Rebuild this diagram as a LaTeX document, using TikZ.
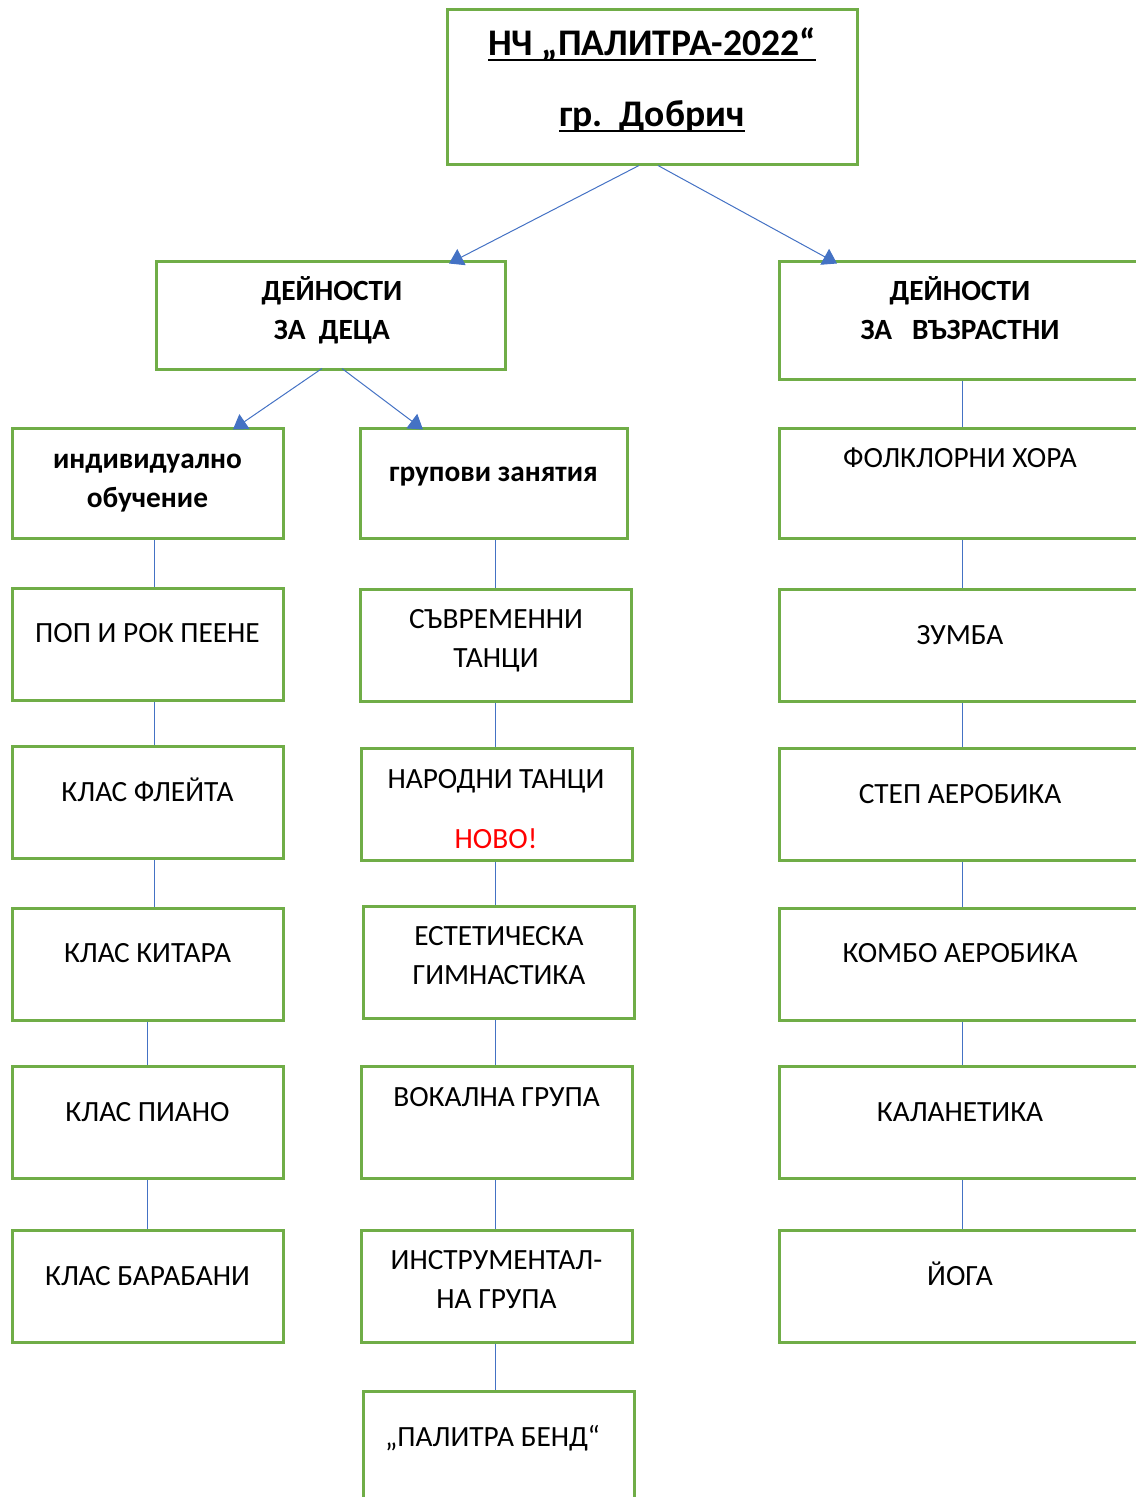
\documentclass[tikz,border=0pt]{standalone}
\usepackage{fontspec}
\setmainfont{Carlito}
\usetikzlibrary{arrows.meta}
\definecolor{boxgreen}{HTML}{70AD47}
\definecolor{linkblue}{HTML}{4472C4}
\definecolor{newred}{HTML}{FF0000}
\newcommand{\titleul}[1]{\setbox0\hbox{#1}\rlap{\rule[-4.5pt]{\wd0}{1.5pt}}\box0}

\begin{document}
\begin{tikzpicture}[
    x = 0.75pt, y = -0.75pt,
    box/.style = {draw = boxgreen, line width = 2.25pt, inner sep = 0pt, minimum width = 203.25pt, minimum height = 84pt},
    wide/.style = {box, minimum width = 274.5pt},
    lbl/.style = {anchor = base, align = center, inner sep = 0pt, font = \fontsize{22}{29}\selectfont},
    heading/.style = {lbl, font = \fontsize{22}{29}\selectfont\bfseries},
    link/.style = {draw = linkblue, line width = 0.75pt},
    pointer/.style = {link, -{Triangle[width = 13.5pt, length = 10.5pt]}}
  ]
  \useasboundingbox (0,0) rectangle (1136,1497);

  % top (text nodes sit on the baseline of their last line)
  \node[box, minimum width = 307.5pt, minimum height = 116.25pt] (nc) at (652,86.5) {};
  \node[lbl, font = \fontsize{28.2}{33}\selectfont\bfseries] (nc-t) at (652,126)
    {\titleul{НЧ „ПАЛИТРА-2022“}\\[20pt]\titleul{гр.\ \ Добрич}};

  % two groups
  \node[box, minimum width = 261.75pt, minimum height = 81pt] (kids) at (330.5,315) {};
  \node[heading] (kids-t) at (332,339) {ДЕЙНОСТИ\\ЗА\ \ ДЕЦА};
  \node[box, minimum width = 274.5pt, minimum height = 88.5pt] (adults) at (962,320) {};
  \node[heading] (adults-t) at (960,339) {ДЕЙНОСТИ\\ЗА\ \ \ ВЪЗРАСТНИ};

  % kinds
  \node[box, minimum height = 82.5pt] (solo) at (147.5,483) {};
  \node[heading] (solo-t) at (147.5,507) {индивидуално\\обучение};
  \node[box, minimum width = 200.25pt, minimum height = 82.5pt] (group) at (493.5,483) {};
  \node[heading] (group-t) at (493.5,481) {групови занятия};
  \node[wide, minimum height = 82.5pt] (folk) at (962,483) {};
  \node[lbl] (folk-t) at (960,467.5) {ФОЛКЛОРНИ ХОРА};

  % individual
  \node[box] (pop) at (147.5,644) {};
  \node[lbl] (pop-t) at (147.5,642) {ПОП И РОК ПЕЕНЕ};
  \node[box] (flute) at (147.5,802.5) {};
  \node[lbl] (flute-t) at (147.5,801.5) {КЛАС ФЛЕЙТА};
  \node[box] (guitar) at (147.5,964) {};
  \node[lbl] (guitar-t) at (147.5,962.5) {КЛАС КИТАРА};
  \node[box] (piano) at (147.5,1122.5) {};
  \node[lbl] (piano-t) at (147.5,1121.5) {КЛАС ПИАНО};
  \node[box] (drums) at (147.5,1286) {};
  \node[lbl] (drums-t) at (147.5,1285.5) {КЛАС БАРАБАНИ};

  % group
  \node[box] (modern) at (495.5,645) {};
  \node[lbl] (modern-t) at (496,667.5) {СЪВРЕМЕННИ\\ТАНЦИ};
  \node[box] (folkdance) at (496.5,804) {};
  \node[lbl] (folkdance-t) at (496,848.5) {НАРОДНИ ТАНЦИ\\[16pt]\textcolor{newred}{НОВО!}};
  \node[box] (gym) at (498.5,962) {};
  \node[lbl] (gym-t) at (499,984.5) {ЕСТЕТИЧЕСКА\\ГИМНАСТИКА};
  \node[box] (vocal) at (496.5,1122.5) {};
  \node[lbl] (vocal-t) at (496.5,1106.5) {ВОКАЛНА ГРУПА};
  \node[box] (instr) at (496.5,1286) {};
  \node[lbl] (instr-t) at (496.5,1308.5) {ИНСТРУМЕНТАЛ-\\НА ГРУПА};
  \node[box] (band) at (498.5,1447) {};
  \node[lbl] (band-t) at (492.5,1446.5) {„ПАЛИТРА БЕНД“};

  % adults
  \node[wide] (zumba) at (962,645.5) {};
  \node[lbl] (zumba-t) at (960,644.5) {ЗУМБА};
  \node[wide] (aerostep) at (962,804) {};
  \node[lbl] (aerostep-t) at (960,803.5) {СТЕП АЕРОБИКА};
  \node[wide] (combo) at (962,964) {};
  \node[lbl] (combo-t) at (960,962.5) {КОМБО АЕРОБИКА};
  \node[wide] (calla) at (962,1122.5) {};
  \node[lbl] (calla-t) at (960,1121.5) {КАЛАНЕТИКА};
  \node[wide] (yoga) at (962,1286) {};
  \node[lbl] (yoga-t) at (960,1285.5) {ЙОГА};

  % arrows
  \draw[pointer] ([xshift = -9.75pt]nc.south) -- ([xshift = 88.9pt, yshift = -3pt]kids.north);
  \draw[pointer] ([xshift = 4.5pt]nc.south) -- ([xshift = -93.75pt, yshift = -3pt]adults.north);
  \draw[pointer] ([xshift = -6.4pt, yshift = 1.5pt]kids.south) -- ([xshift = 64.1pt, yshift = -2.25pt]solo.north);
  \draw[pointer] ([xshift = 8.6pt, yshift = 1.5pt]kids.south) -- ([xshift = -52.9pt, yshift = -2.25pt]group.north);

  % lines
  \draw[link] ([xshift = 5.6pt]solo.south) -- ([xshift = 5.6pt]pop.north);
  \draw[link] ([xshift = 5.6pt]pop.south) -- ([xshift = 5.6pt]flute.north);
  \draw[link] ([xshift = 5.6pt]flute.south) -- ([xshift = 5.6pt]guitar.north);
  \draw[link] (guitar.south) -- (piano.north);
  \draw[link] (piano.south) -- (drums.north);

  \draw[link] (modern.north |- group.south) -- (modern.north);
  \draw[link] (modern.south) -- (modern.south |- folkdance.north);
  \draw[link] (modern.south |- folkdance.south) -- (modern.south |- gym.north);
  \draw[link] (modern.south |- gym.south) -- (modern.south |- vocal.north);
  \draw[link] (modern.south |- vocal.south) -- (modern.south |- instr.north);
  \draw[link] (modern.south |- instr.south) -- (modern.south |- band.north);

  \draw[link] (adults.south) -- (folk.north);
  \draw[link] (folk.south) -- (zumba.north);
  \draw[link] (zumba.south) -- (aerostep.north);
  \draw[link] (aerostep.south) -- (combo.north);
  \draw[link] (combo.south) -- (calla.north);
  \draw[link] (calla.south) -- (yoga.north);
\end{tikzpicture}
\end{document}
